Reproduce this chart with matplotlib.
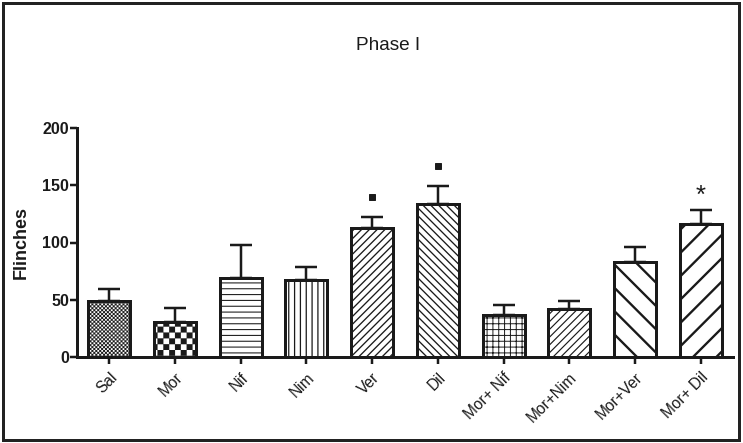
import numpy as np
import matplotlib
matplotlib.use("Agg")
import matplotlib.pyplot as plt
import matplotlib.hatch as mhatch
from matplotlib.path import Path
from matplotlib.patches import Rectangle

# ---------------- data ----------------
categories = ["Sal", "Mor", "Nif", "Nim", "Ver", "Dil",
              "Mor+ Nif", "Mor+Nim", "Mor+Ver", "Mor+ Dil"]
means = [49, 31, 69, 67, 113, 134, 37, 42, 83, 116]
sems = [10, 12, 29, 12, 9, 15, 8, 7, 13, 12]
significance = ["", "", "", "", "square", "square", "", "", "", "*"]
yticks = [0, 50, 100, 150, 200]

# ---------------- custom checkerboard hatch ('O') ----------------
class CheckerHatch(mhatch.HatchPatternBase):
    def __init__(self, hatch, density):
        self.n = 2 * int(hatch.count('O') * density)
        self.num_vertices = (self.n * self.n // 2) * 5 if self.n else 0

    def set_vertices_and_codes(self, vertices, codes):
        n = self.n
        s = 1.0 / n
        k = 0
        for i in range(n):
            for j in range(n):
                if (i + j) % 2 == 0:
                    x0, y0, x1, y1 = i * s, j * s, (i + 1) * s, (j + 1) * s
                    vertices[k:k + 5] = [(x0, y0), (x1, y0), (x1, y1), (x0, y1), (x0, y0)]
                    codes[k:k + 5] = [Path.MOVETO, Path.LINETO, Path.LINETO,
                                      Path.LINETO, Path.CLOSEPOLY]
                    k += 5

mhatch._hatch_types[:] = [CheckerHatch if t is mhatch.LargeCircles else t
                          for t in mhatch._hatch_types]

# ---------------- style ----------------
DPI = 70
PT = 72.0 / DPI  # points per pixel
plt.rcParams['font.family'] = ['Liberation Sans', 'DejaVu Sans']
plt.rcParams['hatch.linewidth'] = 1.0

hatches = ['OOO', 'O', '--', '||', '///', '\\\\\\', '++', '///', '\\', '/']
hatch_lw = [0.15, 0.15, 1.1, 1.3, 1.35, 1.35, 1.0, 1.2, 2.4, 2.4]

fig = plt.figure(figsize=(743 / DPI, 443 / DPI), dpi=DPI)
ax = fig.add_axes([77 / 743, 1 - 357 / 443, (733 - 77) / 743, (357 - 128) / 443])

x = np.arange(len(categories))
ink = '#1a1a1a'
bars = ax.bar(x, means, width=0.64, color='white', edgecolor=ink,
              linewidth=3 * PT, zorder=3)
for b, h, hl in zip(bars, hatches, hatch_lw):
    b.set_hatch(h)
    if hasattr(b, 'set_hatch_linewidth'):
        b.set_hatch_linewidth(hl)

ax.errorbar(x, means, yerr=[np.zeros(len(sems)), sems], fmt='none',
            ecolor=ink, elinewidth=2.5 * PT, capsize=11 * PT,
            capthick=2.5 * PT, zorder=2)

# significance markers
for xi, m, s, sig in zip(x, means, sems, significance):
    if sig == "square":
        ax.plot([xi], [m + s + 18], marker='s', markersize=6.5 * PT,
                color=ink, zorder=4)
    elif sig == "*":
        ax.text(xi, m + s + 13, "*", ha='center', va='center',
                fontsize=26 * PT, color=ink)

ax.set_xlim(-0.49, len(categories) - 1 + 0.49)
ax.set_ylim(0, 200)
ax.set_yticks(yticks)
ax.set_yticklabels([str(t) for t in yticks], fontsize=16 * PT,
                   fontweight='bold', color=ink)
ax.set_xticks(x)
ax.set_xticklabels(categories, rotation=45, ha='right',
                   rotation_mode='anchor', fontsize=15.5 * PT, color=ink)

for side in ['top', 'right']:
    ax.spines[side].set_visible(False)
for side in ['left', 'bottom']:
    ax.spines[side].set_linewidth(3 * PT)
    ax.spines[side].set_color(ink)
ax.tick_params(axis='both', length=7 * PT, width=2.5 * PT, color=ink)
ax.tick_params(axis='y', pad=1 * PT)
ax.tick_params(axis='x', pad=6 * PT)

ax.set_ylabel("Flinches", fontsize=18 * PT, fontweight='bold', color=ink)
ax.yaxis.set_label_coords(-0.072, 0.5)

fig.text(388 / 743, 1 - 45 / 443, "Phase I", ha='center', va='center',
         fontsize=19 * PT, color=ink)

# outer frame
fig.patches.append(Rectangle((2.5 / 743, 3.5 / 443), (739 - 2.5) / 743,
                             (440.5 - 3.5) / 443, transform=fig.transFigure,
                             fill=False, edgecolor='#222222', linewidth=3 * PT))

fig.savefig("out.png", dpi=DPI)
